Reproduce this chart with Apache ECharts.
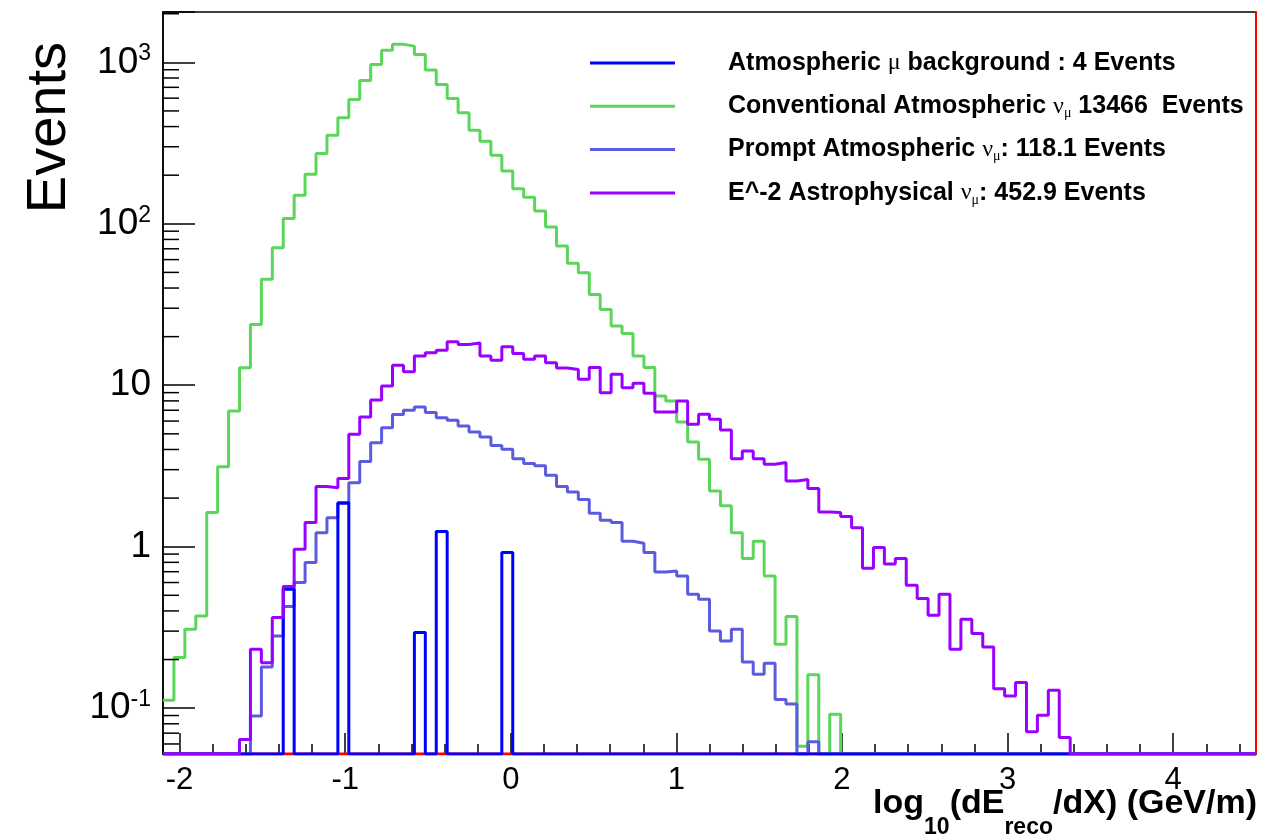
<!DOCTYPE html>
<html style="height: 100%">
<head>
<meta charset="utf-8">
</head>
<body style="height: 100%; margin: 0; background: #fff">
<div id="container" style="width: 1278px; height: 839px"></div>
<script type="text/javascript" src="https://cdn.jsdelivr.net/npm/echarts@6/dist/echarts.min.js"></script>
<script type="text/javascript">
// histogram binning (100 bins from -2.1 to 4.5)
var binLow = -2.1;
var binWidth = 0.066;
var nBins = 100;
var xMin = -2.1, xMax = 4.5;
var yMin = 0.052, yMax = 2050;

var seriesNames = [
  'Atmospheric mu background',
  'Conventional Atmospheric numu',
  'Prompt Atmospheric numu',
  'E^-2 Astrophysical numu'
];
var legendTexts = [
  'Atmospheric {g|\u03bc} background : 4 Events',
  'Conventional Atmospheric {g|\u03bd}{s|\u03bc} 13466  Events',
  'Prompt Atmospheric {g|\u03bd}{s|\u03bc}: 118.1 Events',
  'E^-2 Astrophysical {g|\u03bd}{s|\u03bc}: 452.9 Events'
];

var muonBkg = [
  0, 0, 0, 0, 0, 0, 0, 0, 0, 0,
  0, 0.545, 0, 0, 0, 0, 1.87, 0, 0, 0,
  0, 0, 0, 0.294, 0, 1.24, 0, 0, 0, 0,
  0, 0.919, 0, 0, 0, 0, 0, 0, 0, 0,
  0, 0, 0, 0, 0, 0, 0, 0, 0, 0,
  0, 0, 0, 0, 0, 0, 0, 0, 0, 0,
  0, 0, 0, 0, 0, 0, 0, 0, 0, 0,
  0, 0, 0, 0, 0, 0, 0, 0, 0, 0,
  0, 0, 0, 0, 0, 0, 0, 0, 0, 0,
  0, 0, 0, 0, 0, 0, 0, 0, 0, 0
];

var convNumu = [
  0.112, 0.206, 0.308, 0.372, 1.63, 3.13, 6.92, 12.85, 23.8, 45.3,
  71.1, 108, 150, 203, 272, 354, 454, 589, 772, 971,
  1186, 1292, 1260, 1119, 895, 730, 597, 487, 379, 325,
  266, 212, 165, 146, 120, 95.5, 72.8, 56.9, 49.8, 36.5,
  29.5, 23.3, 20.9, 15.2, 12.9, 8.57, 7.98, 5.92, 4.45, 3.48,
  2.21, 1.79, 1.22, 0.844, 1.08, 0.659, 0.249, 0.369, 0.058, 0.161,
  0, 0.0917, 0, 0, 0, 0, 0, 0, 0, 0,
  0, 0, 0, 0, 0, 0, 0, 0, 0, 0,
  0, 0, 0, 0, 0, 0, 0, 0, 0, 0,
  0, 0, 0, 0, 0, 0, 0, 0, 0, 0
];

var promptNumu = [
  0, 0, 0, 0, 0, 0, 0, 0, 0.0895, 0.18,
  0.28, 0.426, 0.6, 0.798, 1.22, 1.51, 1.85, 2.49, 3.37, 4.41,
  5.46, 6.6, 6.99, 7.33, 6.77, 6.3, 6.06, 5.59, 5.13, 4.78,
  4.24, 4.01, 3.5, 3.27, 3.17, 2.77, 2.36, 2.18, 1.96, 1.61,
  1.46, 1.41, 1.08, 1.05, 0.919, 0.697, 0.707, 0.659, 0.507, 0.472,
  0.301, 0.261, 0.308, 0.193, 0.162, 0.19, 0.113, 0.106, 0, 0.062,
  0, 0, 0, 0, 0, 0, 0, 0, 0, 0,
  0, 0, 0, 0, 0, 0, 0, 0, 0, 0,
  0, 0, 0, 0, 0, 0, 0, 0, 0, 0,
  0, 0, 0, 0, 0, 0, 0, 0, 0, 0
];

var astroNumu = [
  0, 0, 0, 0, 0, 0, 0, 0.064, 0.232, 0.191,
  0.364, 0.566, 0.964, 1.41, 2.36, 2.32, 2.64, 4.97, 6.36, 8.09,
  9.89, 13.3, 12.1, 15.2, 15.9, 16.5, 18.6, 17.9, 18.3, 15.2,
  14.3, 17.3, 15.7, 14.5, 15.2, 13.8, 12.8, 12.5, 10.9, 12.9,
  9.0, 11.7, 9.66, 10.3, 8.91, 6.82, 6.82, 7.98, 5.73, 6.61,
  6.15, 5.28, 3.51, 3.92, 3.51, 3.24, 3.32, 2.55, 2.61, 2.29,
  1.64, 1.63, 1.54, 1.31, 0.735, 0.99, 0.78, 0.844, 0.577, 0.477,
  0.376, 0.507, 0.232, 0.355, 0.29, 0.239, 0.132, 0.119, 0.144, 0.0713,
  0.0904, 0.129, 0.0658, 0, 0, 0, 0, 0, 0, 0,
  0, 0, 0, 0, 0, 0, 0, 0, 0, 0
];

// empty red histogram drawn along the floor
var redHist = [];
for (var i = 0; i < nBins; i++) redHist.push(0);

var mainFont = "'Liberation Sans', Arial, Helvetica, sans-serif";
var greekFont = "'Liberation Serif', 'DejaVu Serif', serif";

// turn bin contents into step points; empty bins sit on the axis floor
function toSteps(bins) {
  var pts = [];
  for (var k = 0; k < bins.length; k++) {
    var v = bins[k] > 0 ? bins[k] : yMin;
    pts.push([binLow + k * binWidth, v]);
  }
  var last = bins[bins.length - 1] > 0 ? bins[bins.length - 1] : yMin;
  pts.push([binLow + bins.length * binWidth, last]);
  return pts;
}

function histSeries(name, bins, color, z) {
  return {
    name: name,
    type: 'line',
    step: 'end',
    symbol: 'none',
    data: toSteps(bins),
    z: z,
    lineStyle: { color: color, width: 3 },
    itemStyle: { color: color },
    emphasis: { disabled: true },
    silent: true
  };
}

// ROOT style log minor ticks (2..9 x 10^n)
var yMinorTicks = [];
for (var n = -2; n <= 3; n++) {
  for (var m = 2; m <= 9; m++) {
    var tv = m * Math.pow(10, n);
    if (tv > yMin && tv < yMax) yMinorTicks.push([xMin, tv]);
  }
}

var dom = document.getElementById('container');
var myChart = echarts.init(dom, null, { renderer: 'canvas' });

var option = {
  animation: false,
  backgroundColor: '#ffffff',
  grid: {
    left: 163, top: 12, width: 1093, height: 742,
    show: true, borderColor: '#000', borderWidth: 1.5,
    containLabel: false
  },
  legend: {
    orient: 'vertical',
    left: 585, top: 44,
    itemWidth: 85, itemHeight: 3, itemGap: 15.3,
    icon: 'rect',
    selectedMode: false,
    data: seriesNames,
    formatter: function (name) {
      return legendTexts[seriesNames.indexOf(name)];
    },
    textStyle: {
      fontFamily: mainFont, fontWeight: 'bold', fontSize: 25,
      color: '#000', lineHeight: 28, padding: [0, 0, 0, 48],
      rich: {
        g: { fontFamily: greekFont, fontWeight: 'normal', fontSize: 24, lineHeight: 28, color: '#000' },
        s: { fontFamily: greekFont, fontWeight: 'normal', fontSize: 14, lineHeight: 14, verticalAlign: 'bottom', color: '#000' }
      }
    }
  },
  xAxis: {
    type: 'value',
    min: xMin, max: xMax,
    splitNumber: 7,
    axisLine: { show: true, onZero: false, lineStyle: { color: '#000', width: 1.5 } },
    axisTick: { show: true, inside: true, length: 21, lineStyle: { color: '#000', width: 1.5 } },
    minorTick: { show: true, splitNumber: 5, length: 10, lineStyle: { color: '#000', width: 1.5 } },
    splitLine: { show: false },
    axisLabel: {
      showMinLabel: false, showMaxLabel: false,
      margin: 11, fontFamily: mainFont, fontSize: 31, color: '#000',
      formatter: function (v) {
        if (Math.abs(v - Math.round(v)) > 1e-6) return '';
        return String(Math.round(v));
      }
    }
  },
  yAxis: {
    type: 'log',
    logBase: 10,
    min: yMin, max: yMax,
    axisLine: { show: true, onZero: false, lineStyle: { color: '#000', width: 1.5 } },
    axisTick: { show: true, inside: true, length: 32, lineStyle: { color: '#000', width: 1.5 } },
    splitLine: { show: false },
    axisLabel: {
      margin: 12, color: '#000',
      fontFamily: mainFont, fontSize: 36,
      formatter: function (v) {
        var e = Math.log10(v);
        var p = Math.round(e);
        if (Math.abs(e - p) > 1e-6) return '';
        if (p === 0) return '{b|1}';
        if (p === 1) return '{b|10}';
        return '{b|10}{sup|' + p + '}';
      },
      rich: {
        b: { fontFamily: mainFont, fontSize: 37, lineHeight: 40, color: '#000' },
        sup: { fontFamily: mainFont, fontSize: 23, lineHeight: 12, verticalAlign: 'top', color: '#000' }
      }
    }
  },
  graphic: [
    {
      type: 'text',
      x: 50, y: 42,
      rotation: Math.PI / 2,
      style: {
        text: 'Events',
        fontFamily: mainFont, fontSize: 56, fill: '#000',
        align: 'right', verticalAlign: 'middle'
      }
    },
    {
      type: 'text',
      x: 1257, y: 787,
      style: {
        text: '{m|log}{s|10}{m|(dE}{s|reco}{m|/dX) (GeV/m)}',
        align: 'right', verticalAlign: 'top',
        rich: {
          m: { fontFamily: mainFont, fontWeight: 'bold', fontSize: 34, lineHeight: 38, verticalAlign: 'top', fill: '#000' },
          s: { fontFamily: mainFont, fontWeight: 'bold', fontSize: 23, lineHeight: 23, verticalAlign: 'top', padding: [29, 0, 0, 0], fill: '#000' }
        }
      }
    }
  ],
  series: [
    {
      name: 'minor ticks',
      type: 'custom',
      silent: true,
      data: yMinorTicks,
      encode: { x: 0, y: 1 },
      z: 20,
      renderItem: function (params, api) {
        var p = api.coord([api.value(0), api.value(1)]);
        return {
          type: 'line',
          shape: { x1: p[0], y1: p[1], x2: p[0] + 16, y2: p[1] },
          style: { stroke: '#000', lineWidth: 1.5 }
        };
      }
    },
    (function () {
      var s = histSeries('red', redHist, '#ff0000', 2);
      s.markLine = {
        silent: true, symbol: 'none', label: { show: false },
        lineStyle: { color: '#ff0000', width: 2, type: 'solid' },
        data: [{ xAxis: xMax }]
      };
      return s;
    })(),
    histSeries(seriesNames[1], convNumu, '#5ad75a', 3),
    histSeries(seriesNames[2], promptNumu, '#5b5be0', 4),
    histSeries(seriesNames[0], muonBkg, '#0000ff', 5),
    histSeries(seriesNames[3], astroNumu, '#9a00ff', 6)
  ]
};

myChart.setOption(option);
</script>
</body>
</html>
